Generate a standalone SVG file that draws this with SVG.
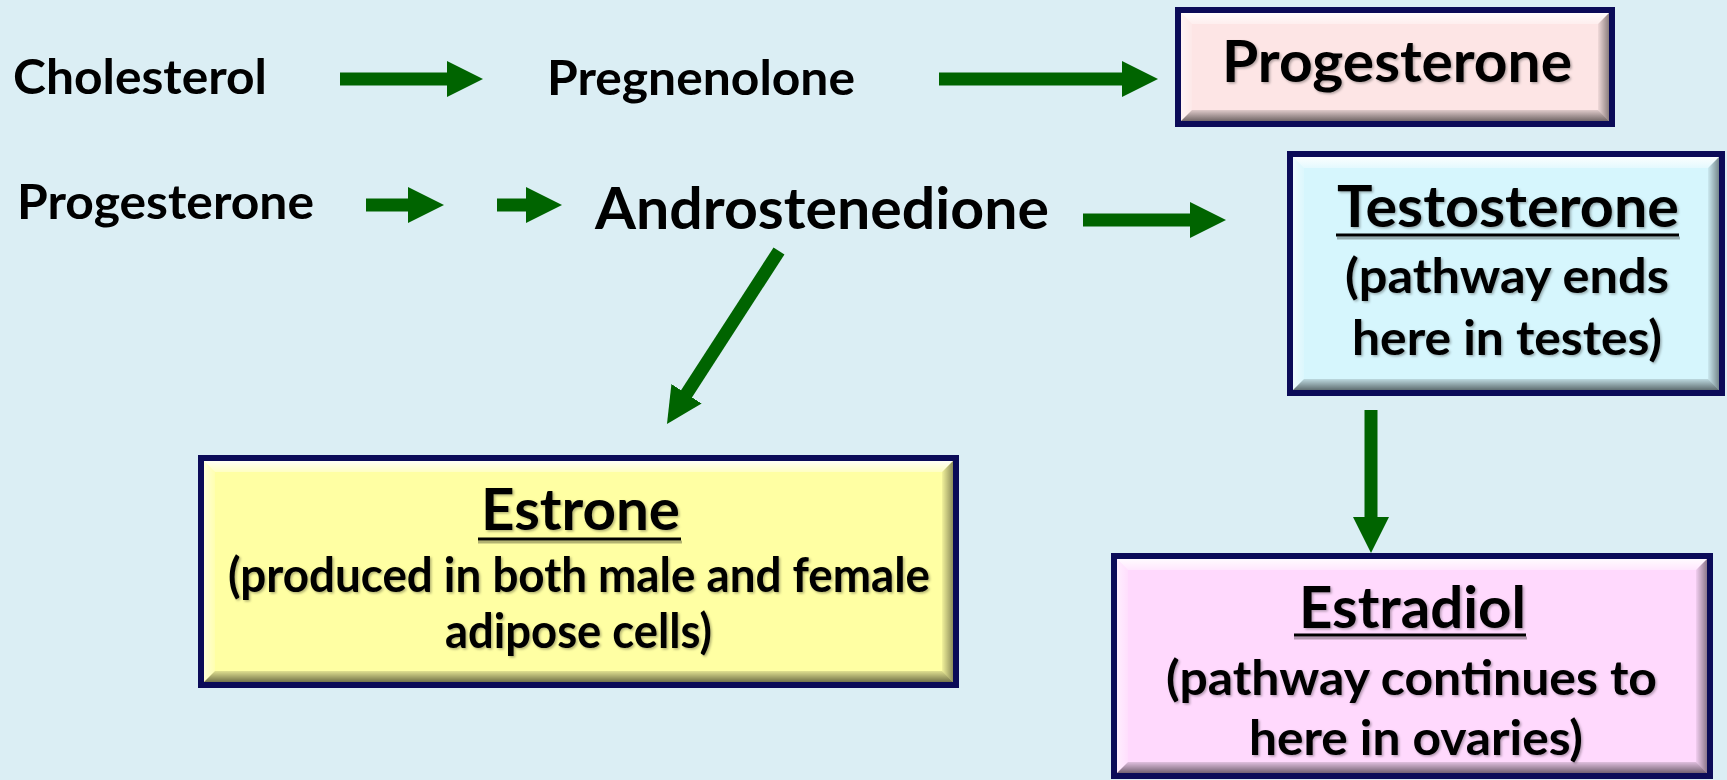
<svg xmlns="http://www.w3.org/2000/svg" width="1727" height="780" viewBox="0 0 1727 780">
<style>
.t{font-family:Lato,"Open Sans","Liberation Sans",sans-serif;font-weight:bold;fill:#000;}
.n{font-size:48px;}
.b{font-size:57px;}
.sh{filter:url(#tsh);}
.frame{fill:#0b0b58;}
.ul{stroke:#000;stroke-width:3;}
.uls{stroke:#000;stroke-opacity:0.3;stroke-width:3;}
.conn line{stroke:#006400;stroke-width:13;marker-end:url(#ah);}
.bt{fill:url(#gTop);}
.bl{fill:url(#gLeft);}
.br{fill:url(#gRight);}
.bb{fill:url(#gBot);}
</style>
<defs>
<marker id="ah" markerUnits="userSpaceOnUse" markerWidth="37" markerHeight="37" viewBox="0 -18.5 37 37" refX="1" refY="0" orient="auto">
<path d="M0,-18 L36,0 L0,18 z" fill="#006400"/>
</marker>
<linearGradient id="gTop" x1="0" y1="0" x2="0" y2="1"><stop offset="0" stop-color="#fff" stop-opacity="0.9"/><stop offset="1" stop-color="#fff" stop-opacity="0.35"/></linearGradient>
<linearGradient id="gLeft" x1="0" y1="0" x2="1" y2="0"><stop offset="0" stop-color="#fff" stop-opacity="0.55"/><stop offset="1" stop-color="#fff" stop-opacity="0.15"/></linearGradient>
<linearGradient id="gRight" x1="0" y1="0" x2="1" y2="0"><stop offset="0" stop-color="#000" stop-opacity="0.05"/><stop offset="1" stop-color="#000" stop-opacity="0.45"/></linearGradient>
<linearGradient id="gBot" x1="0" y1="0" x2="0" y2="1"><stop offset="0" stop-color="#000" stop-opacity="0.12"/><stop offset="1" stop-color="#000" stop-opacity="0.55"/></linearGradient>
<filter id="tsh" x="-5%" y="-20%" width="110%" height="150%"><feDropShadow dx="1.5" dy="1.5" stdDeviation="1" flood-color="#000" flood-opacity="0.3"/></filter>
</defs>
<rect width="1727" height="780" fill="#dbeef4"/>

<g id="cholesterol"><text class="t n" x="13" y="94" textLength="254" lengthAdjust="spacingAndGlyphs">Cholesterol</text></g>
<g id="pregnenolone"><text class="t n" x="547" y="95" textLength="308" lengthAdjust="spacingAndGlyphs">Pregnenolone</text></g>

<g id="progesterone-box">
<rect class="frame" x="1175" y="7" width="440" height="120"/>
<rect x="1181" y="13" width="428" height="108" fill="#fde5e5"/>
<polygon class="bt" points="1181,13 1609,13 1598,24 1192,24"/>
<polygon class="bl" points="1181,13 1192,24 1192,110 1181,121"/>
<polygon class="br" points="1609,13 1609,121 1598,110 1598,24"/>
<polygon class="bb" points="1181,121 1192,110 1598,110 1609,121"/>
<text class="t b sh" x="1222" y="82" textLength="350" lengthAdjust="spacingAndGlyphs">Progesterone</text>
</g>

<g id="progesterone"><text class="t n" x="17" y="219" textLength="297" lengthAdjust="spacingAndGlyphs">Progesterone</text></g>
<g id="androstenedione"><text class="t b" x="595" y="229" textLength="454" lengthAdjust="spacingAndGlyphs">Androstenedione</text></g>

<g id="testosterone-box">
<rect class="frame" x="1287" y="151" width="438" height="245"/>
<rect x="1293" y="157" width="426" height="233" fill="#d6f6fd"/>
<polygon class="bt" points="1293,157 1719,157 1708,168 1304,168"/>
<polygon class="bl" points="1293,157 1304,168 1304,379 1293,390"/>
<polygon class="br" points="1719,157 1719,390 1708,379 1708,168"/>
<polygon class="bb" points="1293,390 1304,379 1708,379 1719,390"/>
<text class="t b sh" x="1337" y="227" textLength="342" lengthAdjust="spacingAndGlyphs">Testosterone</text>
<line class="uls" x1="1337" y1="238" x2="1680" y2="238"/>
<line class="ul" x1="1336" y1="235" x2="1679" y2="235"/>
<text class="t n sh" x="1345" y="293" textLength="324" lengthAdjust="spacingAndGlyphs">(pathway ends</text>
<text class="t n sh" x="1352" y="355" textLength="310" lengthAdjust="spacingAndGlyphs">here in testes)</text>
</g>

<g id="estrone-box">
<rect class="frame" x="198" y="455" width="761" height="233"/>
<rect x="204" y="461" width="749" height="221" fill="#ffffa3"/>
<polygon class="bt" points="204,461 953,461 942,472 215,472"/>
<polygon class="bl" points="204,461 215,472 215,671 204,682"/>
<polygon class="br" points="953,461 953,682 942,671 942,472"/>
<polygon class="bb" points="204,682 215,671 942,671 953,682"/>
<text class="t b sh" x="481" y="530" textLength="199" lengthAdjust="spacingAndGlyphs">Estrone</text>
<line class="uls" x1="478" y1="542" x2="682" y2="542"/>
<line class="ul" x1="478" y1="539" x2="681" y2="539"/>
<text class="t n sh" x="228" y="592" textLength="702" lengthAdjust="spacingAndGlyphs">(produced in both male and female</text>
<text class="t n sh" x="445" y="648" textLength="267" lengthAdjust="spacingAndGlyphs">adipose cells)</text>
</g>

<g id="estradiol-box">
<rect class="frame" x="1111" y="553" width="602" height="226"/>
<rect x="1117" y="559" width="590" height="214" fill="#ffd9fd"/>
<polygon class="bt" points="1117,559 1707,559 1696,570 1128,570"/>
<polygon class="bl" points="1117,559 1128,570 1128,762 1117,773"/>
<polygon class="br" points="1707,559 1707,773 1696,762 1696,570"/>
<polygon class="bb" points="1117,773 1128,762 1696,762 1707,773"/>
<text class="t b sh" x="1299" y="628" textLength="227" lengthAdjust="spacingAndGlyphs">Estradiol</text>
<line class="uls" x1="1294" y1="638" x2="1527" y2="638"/>
<line class="ul" x1="1294" y1="635" x2="1526" y2="635"/>
<text class="t n sh" x="1166" y="695" textLength="491" lengthAdjust="spacingAndGlyphs">(pathway continues to</text>
<text class="t n sh" x="1249" y="755" textLength="334" lengthAdjust="spacingAndGlyphs">here in ovaries)</text>
</g>

<g id="connectors" class="conn">
<line x1="340" y1="79" x2="448" y2="79"/>
<line x1="939" y1="79" x2="1123" y2="79"/>
<line x1="366" y1="205" x2="409" y2="205"/>
<line x1="497" y1="205" x2="527" y2="205"/>
<line x1="1083" y1="220" x2="1191" y2="220"/>
<line x1="1371" y1="410" x2="1371" y2="518"/>
<line x1="779" y1="251" x2="686" y2="394.6"/>
</g>
</svg>
